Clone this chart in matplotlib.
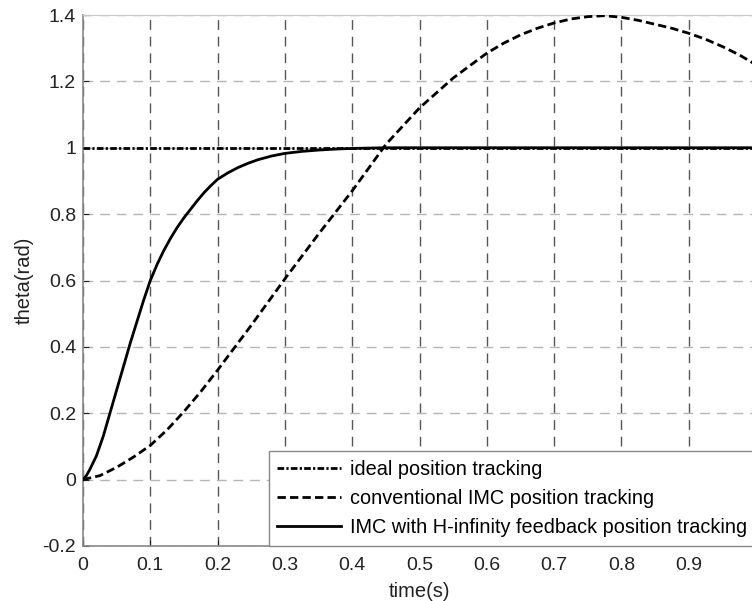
import numpy as np
import matplotlib
matplotlib.use('Agg')
import matplotlib.pyplot as plt
from matplotlib.ticker import FormatStrFormatter

# ideal reference (unit step)
t_ideal = [0.0, 1.0]
y_ideal = [1.0, 1.0]

# conventional IMC response
t_imc = [0.0, 0.025, 0.05, 0.075, 0.1, 0.125, 0.15, 0.175, 0.2, 0.25, 0.3, 0.35,
         0.4, 0.45, 0.5, 0.55, 0.6, 0.625, 0.65, 0.675, 0.7, 0.725, 0.75, 0.775,
         0.8, 0.825, 0.85, 0.875, 0.9, 0.925, 0.95, 0.975, 1.0]
y_imc = [0.0, 0.012, 0.037, 0.068, 0.103, 0.15, 0.205, 0.265, 0.33, 0.465, 0.605, 0.74,
         0.87, 1.01, 1.12, 1.21, 1.285, 1.315, 1.34, 1.36, 1.376, 1.388, 1.395, 1.398,
         1.393, 1.384, 1.372, 1.36, 1.345, 1.327, 1.305, 1.28, 1.25]

# IMC with H-infinity feedback
t_hinf = [0.0, 0.005, 0.01, 0.02, 0.03, 0.04, 0.05, 0.06, 0.07, 0.08, 0.09, 0.1, 0.11,
          0.12, 0.13, 0.14, 0.15, 0.16, 0.17, 0.18, 0.19, 0.2, 0.215, 0.23, 0.245,
          0.26, 0.28, 0.3, 0.325, 0.35, 0.375, 0.4, 0.45, 0.5, 1.0]
y_hinf = [0.0, 0.012, 0.03, 0.072, 0.13, 0.2, 0.27, 0.34, 0.41, 0.475, 0.54, 0.6, 0.648,
          0.69, 0.727, 0.76, 0.789, 0.815, 0.841, 0.865, 0.886, 0.905, 0.924, 0.94, 0.953,
          0.964, 0.975, 0.983, 0.989, 0.993, 0.996, 0.998, 1.0, 1.0, 1.0]

labels = ['ideal position tracking',
          'conventional IMC position tracking',
          'IMC with H-infinity feedback position tracking']

plt.rcParams['font.family'] = ['Liberation Sans', 'DejaVu Sans']

fig = plt.figure(figsize=(7.52, 6.01), dpi=100)
ax = fig.add_axes([83 / 752, 55 / 601, 673 / 752, 531 / 601])

ax.plot(t_ideal, y_ideal, color='black', lw=2, linestyle=(0, (2.4, 0.8, 0.8, 0.8)),
        label=labels[0], zorder=3)
ax.plot(t_imc, y_imc, color='black', lw=2, linestyle=(0, (3, 1.5)),
        label=labels[1], zorder=3)
ax.plot(t_hinf, y_hinf, color='black', lw=2, linestyle='-',
        label=labels[2], zorder=4)

ax.set_xlim(0, 1)
ax.set_ylim(-0.2, 1.4)
ax.set_xticks(np.arange(0, 1.0, 0.1))
ax.set_xticks([1.0], minor=True)
ax.set_yticks(np.arange(-0.2, 1.41, 0.2))
ax.xaxis.set_major_formatter(FormatStrFormatter('%g'))
ax.yaxis.set_major_formatter(FormatStrFormatter('%g'))
ax.tick_params(direction='in', length=4, labelsize=14, colors='#222222', pad=5)
ax.tick_params(axis='x', pad=8)
ax.tick_params(axis='x', which='minor', direction='in', length=4)

# MATLAB-like grid: darker vertical, lighter horizontal
ax.xaxis.grid(True, which='both', color='#555555', lw=1, linestyle=(0, (7, 5)))
ax.yaxis.grid(True, color='#b5b5b5', lw=1, linestyle=(0, (7, 5)))
ax.set_axisbelow(True)

for side in ['left', 'bottom']:
    ax.spines[side].set_color('#888888')
    ax.spines[side].set_linewidth(1.2)
ax.spines['top'].set_color('#c8c8c8')
ax.spines['right'].set_color('#c8c8c8')

ax.set_xlabel('time(s)', fontsize=14.5, color='#222222', labelpad=6)
ax.set_ylabel('theta(rad)', fontsize=14.5, color='#222222', labelpad=6)

leg = ax.legend(loc='lower right', fontsize=14.3, frameon=True, fancybox=False,
                borderaxespad=0, handlelength=3.2, handletextpad=0.45,
                labelspacing=0.5, borderpad=0.45)
leg.get_frame().set_edgecolor('#888888')
leg.get_frame().set_linewidth(1)
leg.get_frame().set_alpha(1)

fig.savefig('out.png', dpi=100)
